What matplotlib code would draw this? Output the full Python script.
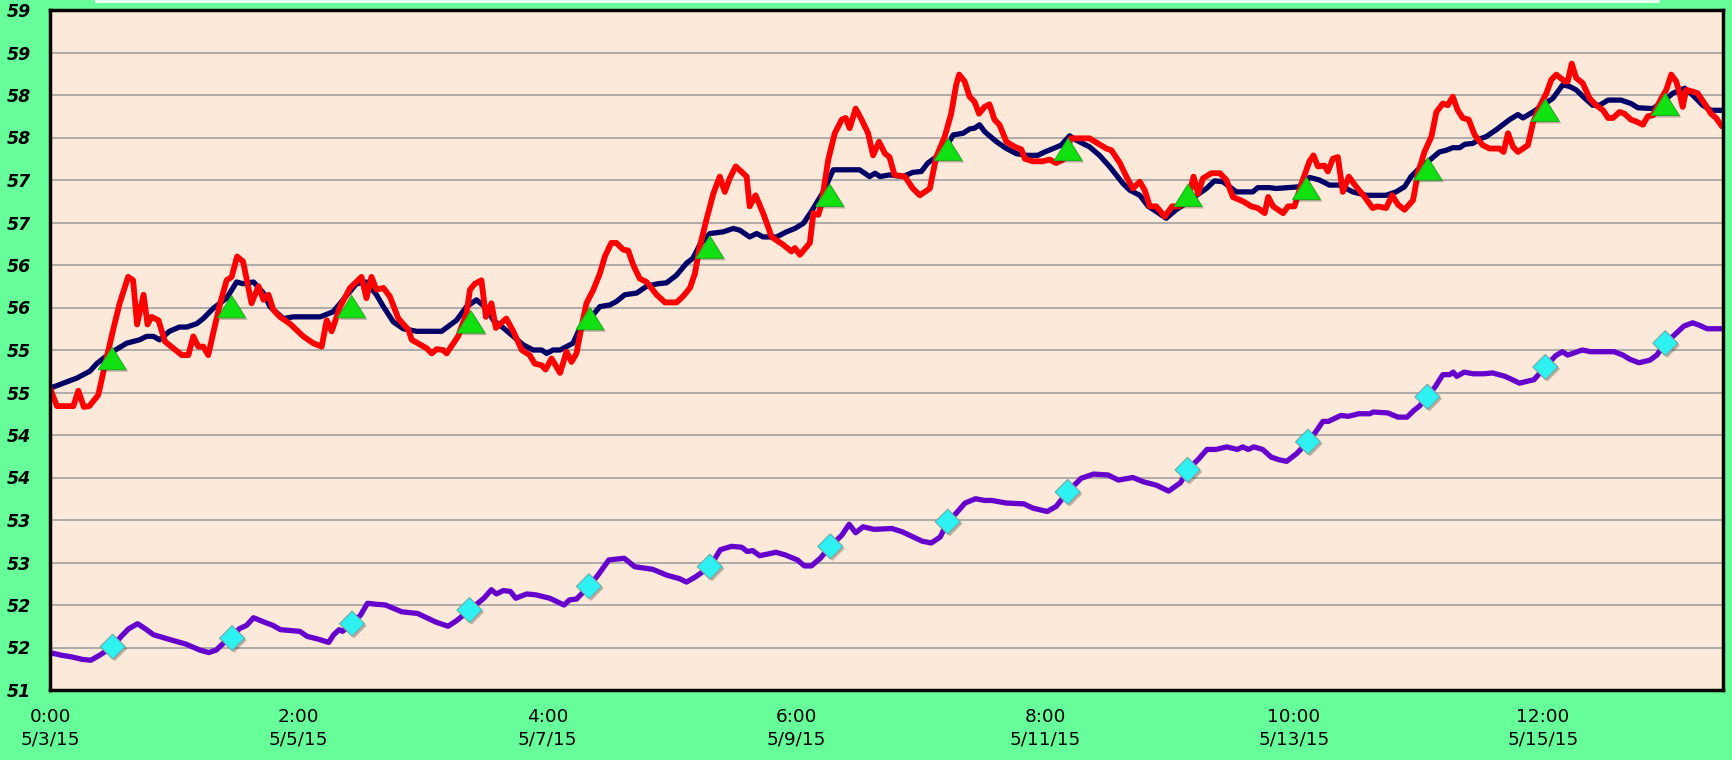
import numpy as np
import matplotlib
matplotlib.use("Agg")
import matplotlib.pyplot as plt
from matplotlib.ticker import FuncFormatter, FixedLocator
import matplotlib.patheffects as pe
from matplotlib.patches import Rectangle

# ---------------- data (x in hours from 0:00 5/3/15) ----------------
navy_h = [0, 2.7, 5.4, 8, 9.4, 12, 15.4, 18, 19.4, 20.8, 22, 24, 26, 27.5, 29.5, 30.8, 32.8, 35.5, 37.5, 38.8,
          40.9, 42.9, 44.2, 46.9, 48.9, 54.3, 56.9, 58.9, 61.6, 63.6, 65.6, 67, 69, 71, 73.7, 78.7, 81.7, 83.7,
          85.7, 87.4, 89.1, 91.1, 93.1, 95.1, 97.1, 98.8, 99.8, 101.1, 102.5, 103.8, 105.1, 106.5, 108.5, 110.5,
          112.5, 113.8, 115.5, 117.9, 119.9, 122.2, 123.9, 125.9, 127.9, 129.2, 130.6, 132.6, 135.3, 137.3, 138.6,
          140.6, 142, 143.3, 146, 148, 149.7, 151.4, 153, 155.4, 157.4, 162.7, 164.7, 165.8, 166.8,
          168.7, 171.4, 173.4, 175.1, 176.4, 178.1, 180.1, 181.5, 183.5, 184.8, 185.8, 186.8, 187.8, 190.2, 192.2,
          194.2, 196.2, 198.5, 199.9, 201.6, 203.2, 204.9, 206.2, 208.9, 210.9, 212.9, 215.6, 217, 219, 220.7,
          222.3, 224.3, 226.3, 228.4, 230.4, 232.4, 234, 235.7, 238.4, 241.7, 242.7, 245.1, 246.4, 251,
          253.1, 255.1, 257.1, 259.1, 261.8, 264.5, 268.5, 270.5, 272.2, 273.5, 275.2, 277.6, 279.2, 280.6, 281.9,
          283.3, 284.3, 285.9, 287.6, 288.6, 290.6, 293.3, 295, 296, 298, 300, 302, 304, 305.4, 306.7, 308.1, 310,
          311.4, 313.1, 315.7, 317.7, 319.1, 322.1, 324.1, 326.1, 328.5, 330.1, 332.1, 333.8, 336.2]
navy_v = [54.55, 54.61, 54.67, 54.75, 54.84, 54.96, 55.08, 55.12, 55.16, 55.16, 55.12, 55.22, 55.27, 55.27, 55.31,
          55.37, 55.49, 55.61, 55.80, 55.78, 55.80, 55.67, 55.51, 55.37, 55.39, 55.39, 55.45, 55.59, 55.78, 55.80,
          55.65, 55.51, 55.33, 55.25, 55.22, 55.22, 55.35, 55.51,
          55.59, 55.51, 55.35, 55.26, 55.16, 55.06, 55.00, 55.00, 54.96, 55.00, 55.00, 55.04, 55.08, 55.26, 55.37,
          55.51, 55.53, 55.57, 55.65, 55.67, 55.75, 55.78, 55.79, 55.88, 56.02, 56.08, 56.24, 56.37, 56.39, 56.43,
          56.41, 56.33, 56.37, 56.33, 56.33, 56.39, 56.43, 56.49, 56.63, 56.86, 57.12, 57.12, 57.04, 57.08, 57.04,
          57.06, 57.04, 57.09, 57.10, 57.20, 57.27, 57.39, 57.53, 57.55, 57.60, 57.61, 57.65, 57.57, 57.45, 57.37,
          57.31, 57.29, 57.29, 57.33, 57.37, 57.41, 57.52, 57.47, 57.39, 57.29, 57.16, 56.96, 56.88, 56.82, 56.69,
          56.63, 56.55, 56.65, 56.73, 56.82, 56.90, 56.99, 56.98, 56.86, 56.86, 56.91, 56.91, 56.90, 56.92,
          57.03, 57.00, 56.94, 56.94, 56.86, 56.82, 56.82, 56.86, 56.92, 57.04, 57.14, 57.25, 57.33, 57.35, 57.38,
          57.38, 57.42, 57.43, 57.49, 57.51, 57.59, 57.71, 57.77, 57.73, 57.80, 57.88, 57.96, 58.12, 58.10, 58.06,
          57.98, 57.88, 57.88, 57.94, 57.94, 57.90, 57.85, 57.84, 57.92, 58.02, 58.08, 58.00, 57.88, 57.82, 57.82]

red_h = [0, 1.4, 4.7, 5.7, 6.8, 7.9, 9.7, 10.8, 12.7, 14, 15.7, 16.7, 17.5, 18.8, 19.6, 20.4, 21.8, 23.1, 24.8,
         26.5, 27.8, 28.8, 29.8, 30.8, 31.8, 32.8, 34.2, 35.5, 36.5, 37.6, 38.8, 40.5, 41.9, 42.9, 43.9, 44.9,
         46.2, 48.2, 50.9, 52.9, 54.6, 55.6, 56.6, 58.3, 60.3, 62.6, 63.6, 64.6, 65.6, 67, 68.3, 70, 72, 72.7,
         75.7, 76.7, 77.7, 79, 79.7, 82, 83.7,
         84.4, 85.4, 86.7, 87.6, 88.7, 89.6, 91.7, 93.1, 94.8, 96.4, 97.4, 98.8, 99.6, 100.8, 102.5, 103.8, 104.8,
         105.8, 106.8, 107.8, 109.2, 110.5, 111.5, 112.8, 113.8, 115.2, 116.2, 117.2, 118.5, 119.9, 121.9, 123.6,
         125.9, 127.2, 128.6, 129.6, 130.6, 131.9, 133.3, 134.6, 135.6, 136.6, 137.8, 140, 140.6, 141.8, 143.3,
         144.3, 145, 147.3, 149, 149.7, 150.7, 152.7, 153.4, 154.4, 155, 156.4, 157.7, 159.1, 159.9, 160.7, 161.9,
         163.1, 164.4, 165.4, 166.6, 167.8,
         168.7, 169.7, 171.8, 173.4, 174.8, 176.8, 178.1, 179.8, 181.1, 182.1, 182.7, 183.8, 184.8, 185.8, 186.7,
         187.8, 188.8, 189.8, 190.8, 192.2, 193.9, 195.2, 195.9, 197.5, 199.5, 200.9, 202.2, 203.6, 205.2, 208.9,
         210.6, 212.3, 213.3, 215, 216.3, 217.6, 219, 220, 221, 222.3, 224, 225.5, 227, 228.7, 229.8, 230.7,
         231.7, 233.4, 235.1, 236.4, 237.7, 239.7, 241.4, 242.7, 244.1, 244.8, 245.8, 247.8, 248.8, 250.1, 251.5,
         253.1, 253.9, 254.8, 256.1, 256.8, 257.8, 258.8, 259.8, 261, 262.5, 264.2, 265.8, 266.8, 268.5, 269.7,
         270.9, 272.2, 273.9, 274.9, 276.2, 277.6, 278.6, 279.9, 280.9, 281.9, 282.9, 283.9, 285.1, 286.3, 287.9,
         289.3, 291.3, 292.1, 293, 294, 295, 297, 298, 299.3, 300.7, 301.7, 302.7, 304.4, 305, 305.8, 306.7, 308,
         309.4, 310.7, 312.1, 313.1, 314.1, 315.4, 316.4, 317.7, 318.7, 320.1, 321.1, 322.1, 323.8, 324.8, 325.8,
         326.8, 327.5, 328.1, 328.8, 330.1, 331.1, 332.5, 333.8, 334.8, 336]
red_v = [54.55, 54.34, 54.34, 54.52, 54.33, 54.34, 54.47, 54.76, 55.24, 55.55, 55.86, 55.82, 55.30, 55.65, 55.30,
         55.39, 55.35, 55.10, 55.02, 54.94, 54.94, 55.16, 55.04, 55.04, 54.94, 55.20, 55.55, 55.82, 55.86, 56.10,
         56.04, 55.55, 55.75, 55.59, 55.65, 55.47, 55.39, 55.31, 55.16, 55.08, 55.04, 55.35, 55.22, 55.51, 55.73,
         55.86, 55.61, 55.86, 55.71, 55.73, 55.63, 55.37, 55.24, 55.12, 55.02, 54.96, 55.01, 55.00, 54.96, 55.16,
         55.43,
         55.71, 55.78, 55.82, 55.39, 55.55, 55.26, 55.37, 55.22, 55.00, 54.94, 54.84, 54.82, 54.77, 54.90, 54.73,
         54.98, 54.86, 54.96, 55.27, 55.55, 55.71, 55.90, 56.10, 56.26, 56.26, 56.18, 56.17, 56.00, 55.84, 55.80,
         55.65, 55.56, 55.56, 55.63, 55.73, 55.90, 56.22, 56.53, 56.84, 57.04, 56.86, 57.02, 57.16, 57.04, 56.69,
         56.82, 56.61, 56.45, 56.33, 56.24, 56.16, 56.20, 56.12, 56.26, 56.61, 56.59, 56.71, 57.24, 57.55, 57.71,
         57.73, 57.61, 57.84, 57.71, 57.55, 57.29, 57.45, 57.31,
         57.27, 57.06, 57.04, 56.90, 56.82, 56.90, 57.27, 57.51, 57.78, 58.12, 58.24, 58.16, 57.98, 57.92, 57.78,
         57.86, 57.89, 57.71, 57.65, 57.45, 57.39, 57.36, 57.25, 57.22, 57.22, 57.24, 57.20, 57.24, 57.49, 57.49,
         57.43, 57.37, 57.35, 57.20, 57.04, 56.90, 56.98, 56.88, 56.69, 56.69, 56.57, 56.69, 56.69, 56.77, 57.04,
         56.84, 57.02, 57.08, 57.08, 57.00, 56.80, 56.75, 56.69, 56.67, 56.61, 56.80, 56.69, 56.61, 56.69, 56.69,
         56.96,
         57.22, 57.29, 57.16, 57.17, 57.10, 57.25, 57.27, 56.86, 57.04, 56.92, 56.80, 56.67, 56.69, 56.67, 56.82,
         56.71, 56.65, 56.76, 57.08, 57.33, 57.51, 57.80, 57.90, 57.88, 57.98, 57.82, 57.73, 57.71, 57.53, 57.41,
         57.37, 57.37, 57.33, 57.55, 57.39, 57.33, 57.41, 57.67, 57.86, 58.02, 58.18, 58.24, 58.16, 58.16, 58.37,
         58.20, 58.14, 57.96, 57.88, 57.82, 57.73, 57.73, 57.80, 57.78, 57.71, 57.69, 57.65, 57.75, 57.76, 57.96,
         58.06, 58.24, 58.16, 58.02, 57.86, 58.06, 58.04, 58.02, 57.90, 57.78, 57.73, 57.63]

purple_h = [0, 2.2, 4.3, 6.5, 8.2, 10, 12.6, 14.3, 15.8, 17.6, 19.4, 20.8, 23.7, 27.3, 30.1, 31.9, 33.4, 35.2,
            36.6, 38, 39.5, 40.9, 43, 44.8, 46.3, 50.2, 51.7, 53.8, 56, 57, 58.1, 58.8, 60.6, 62.4, 63.8, 65.3,
            67.4, 70.7, 73.9, 77.5, 80, 81.8, 84.3, 87.2, 88.7, 89.7, 91.1, 92.5, 93.6, 95.8, 97.6, 100.4, 103.3,
            104.4, 105.8, 108.3, 110.1, 112.3,
            115.4, 117.5, 121.1, 124, 126.5, 127.9, 129.7, 132.6, 134.7, 136.9, 139, 140.1, 141.2, 142.6, 145.9,
            147.7, 150.2, 151.6, 153, 154.8, 156.8, 159.1, 160.6, 161.9, 163.4, 165.6, 169.2, 171.3, 173.5, 175.3,
            177.1, 178.9, 180.4, 182.1, 183.9, 186, 187.8, 189.3, 192.1, 195.7, 197.5, 200.4, 202.2, 204.5, 207.2,
            209.7, 212.6, 214.7, 217.6, 219.7, 222.3, 224.8,
            227.2, 228.6, 230.7, 232.5, 234.3, 236.5, 238.6, 239.7, 240.8, 241.9, 243.7, 245.4, 246.9, 248.5, 250.5,
            252.8, 254.4, 255.8, 256.9, 259.4, 260.9, 263, 265.2, 265.9, 268.8, 270.9, 272.7, 274.1, 275.2, 276.8,
            278.4, 279.9, 281.3, 282, 282.7, 284.2, 286, 288.1, 289.9, 292.4, 293.9, 295.3, 296.7, 298.2, 300.5,
            302.5, 303.9, 305, 307.9, 309.6, 311.8, 314.3, 316.1, 317.5, 319.3, 321.5, 322.9, 324.6, 326.5, 328.3,
            330.1, 331.5, 333, 335.8]
purple_v = [51.44, 51.41, 51.39, 51.36, 51.35, 51.41, 51.51, 51.63, 51.72, 51.78, 51.71, 51.65, 51.60, 51.54,
            51.47, 51.44, 51.47, 51.57, 51.61, 51.72, 51.76, 51.85, 51.80, 51.76, 51.71, 51.69, 51.63, 51.60, 51.56,
            51.65, 51.71, 51.69, 51.78, 51.88, 52.02, 52.01, 52.00, 51.92, 51.90, 51.80, 51.75, 51.82, 51.94, 52.08,
            52.18, 52.13, 52.17, 52.16, 52.08, 52.13, 52.12, 52.08, 52.00, 52.06, 52.07, 52.22, 52.35, 52.53,
            52.55, 52.45, 52.42, 52.35, 52.31, 52.27, 52.33, 52.45, 52.65, 52.69, 52.68, 52.63, 52.64, 52.58, 52.62,
            52.59, 52.53, 52.46, 52.46, 52.55, 52.69, 52.82, 52.95, 52.85, 52.92, 52.89, 52.90, 52.86, 52.80, 52.75,
            52.73, 52.80, 52.98, 53.08, 53.20, 53.25, 53.23, 53.23, 53.20, 53.19, 53.14, 53.10, 53.16, 53.33, 53.49,
            53.54, 53.53, 53.47, 53.50, 53.45, 53.41, 53.34,
            53.44, 53.59, 53.71, 53.83, 53.83, 53.86, 53.83, 53.86, 53.83, 53.86, 53.83, 53.74, 53.71, 53.69, 53.78,
            53.92, 54.04, 54.16, 54.16, 54.23, 54.22, 54.25, 54.25, 54.27, 54.26, 54.21, 54.21, 54.29, 54.34, 54.45,
            54.57, 54.71, 54.71, 54.74, 54.69, 54.74, 54.72, 54.72, 54.73, 54.69, 54.65, 54.61, 54.63, 54.65, 54.80,
            54.93, 54.98, 54.94, 55.00, 54.98, 54.98, 54.98, 54.94, 54.89, 54.85, 54.88, 54.94, 55.08, 55.18, 55.28,
            55.32, 55.29, 55.25, 55.25]

tri_h = [12.5, 36.5, 60.6, 84.6, 108.5, 132.6, 156.7, 180.5, 204.6, 228.7, 252.5, 276.9, 300.5, 324.6]
tri_v = [54.90, 55.51, 55.51, 55.33, 55.37, 56.21, 56.82, 57.36, 57.36, 56.82, 56.90, 57.13, 57.82, 57.89]

dia_h = [12.6, 36.6, 60.7, 84.3, 108.3, 132.6, 156.8, 180.4, 204.5, 228.6, 252.8, 276.8, 300.5, 324.6]
dia_v = [51.51, 51.61, 51.78, 51.94, 52.22, 52.45, 52.69, 52.98, 53.33, 53.59, 53.92, 54.45, 54.80, 55.08]

x_ticks = [0, 50, 100, 150, 200, 250, 300]
x_labels = ["0:00\n5/3/15", "2:00\n5/5/15", "4:00\n5/7/15", "6:00\n5/9/15",
            "8:00\n5/11/15", "10:00\n5/13/15", "12:00\n5/15/15"]
y_ticks = [51, 51.5, 52, 52.5, 53, 53.5, 54, 54.5, 55, 55.5, 56, 56.5, 57, 57.5, 58, 58.5, 59]

# ---------------- figure ----------------
W, H = 1733, 760
fig = plt.figure(figsize=(W / 100, H / 100), dpi=100, facecolor="#66FF99")
ax = fig.add_axes([50 / W, 1 - 690 / H, (1723 - 50) / W, (690 - 10) / H])
ax.set_facecolor("#FDE9D9")

# light strip at top (cut-off title area)
fig.patches.append(Rectangle((95 / W, 1 - 3 / H), (1660 - 95) / W, 3 / H,
                             transform=fig.transFigure, facecolor="#E6FFEE",
                             edgecolor="none", zorder=0))

ax.set_xlim(0, 336.2)
ax.set_ylim(51, 59)

ax.yaxis.set_major_locator(FixedLocator(y_ticks))
ax.yaxis.set_major_formatter(FuncFormatter(lambda v, p: f"{int(np.floor(v + 0.5 + 1e-9))}"))
ax.set_xticks(x_ticks)
ax.set_xticklabels(x_labels, fontsize=13.3, linespacing=1.3)
for t in ax.get_yticklabels():
    t.set_fontsize(12.5)
    t.set_fontweight("bold")
    t.set_fontstyle("italic")
ax.tick_params(axis="y", length=0, pad=14)
ax.tick_params(axis="x", length=0, pad=13)
ax.grid(axis="y", color="#A0A0A0", linewidth=1.2, zorder=1)
ax.set_axisbelow(True)

for s in ax.spines.values():
    s.set_color("black")
    s.set_linewidth(2.5)
    s.set_zorder(10)

lkw = dict(solid_joinstyle="round", solid_capstyle="round")
ax.plot(navy_h, navy_v, color="#000066", linewidth=3.8, zorder=3, **lkw)
ax.plot(red_h, red_v, color="#FF0000", linewidth=4.2, zorder=4, **lkw)
ax.plot(purple_h, purple_v, color="#6600CC", linewidth=3.8, zorder=3, **lkw)

shadow = [pe.SimplePatchShadow(offset=(1.5, -1.5), shadow_rgbFace="black", alpha=0.25), pe.Normal()]
tri_marker = [(-1, -0.8), (1, -0.8), (0, 0.8), (-1, -0.8)]
dia_marker = [(0, 1), (1, 0), (0, -1), (-1, 0), (0, 1)]
ax.plot(tri_h, tri_v, linestyle="none", marker=tri_marker, markersize=20,
        markerfacecolor="#11E011", markeredgecolor="#22B022", markeredgewidth=0.8,
        zorder=6, path_effects=shadow)
ax.plot(dia_h, dia_v, linestyle="none", marker=dia_marker, markersize=18,
        markerfacecolor="#2EF2F2", markeredgecolor="#70A8A8", markeredgewidth=0.8,
        zorder=6, path_effects=shadow)

fig.savefig("out.png", dpi=100, facecolor=fig.get_facecolor())
